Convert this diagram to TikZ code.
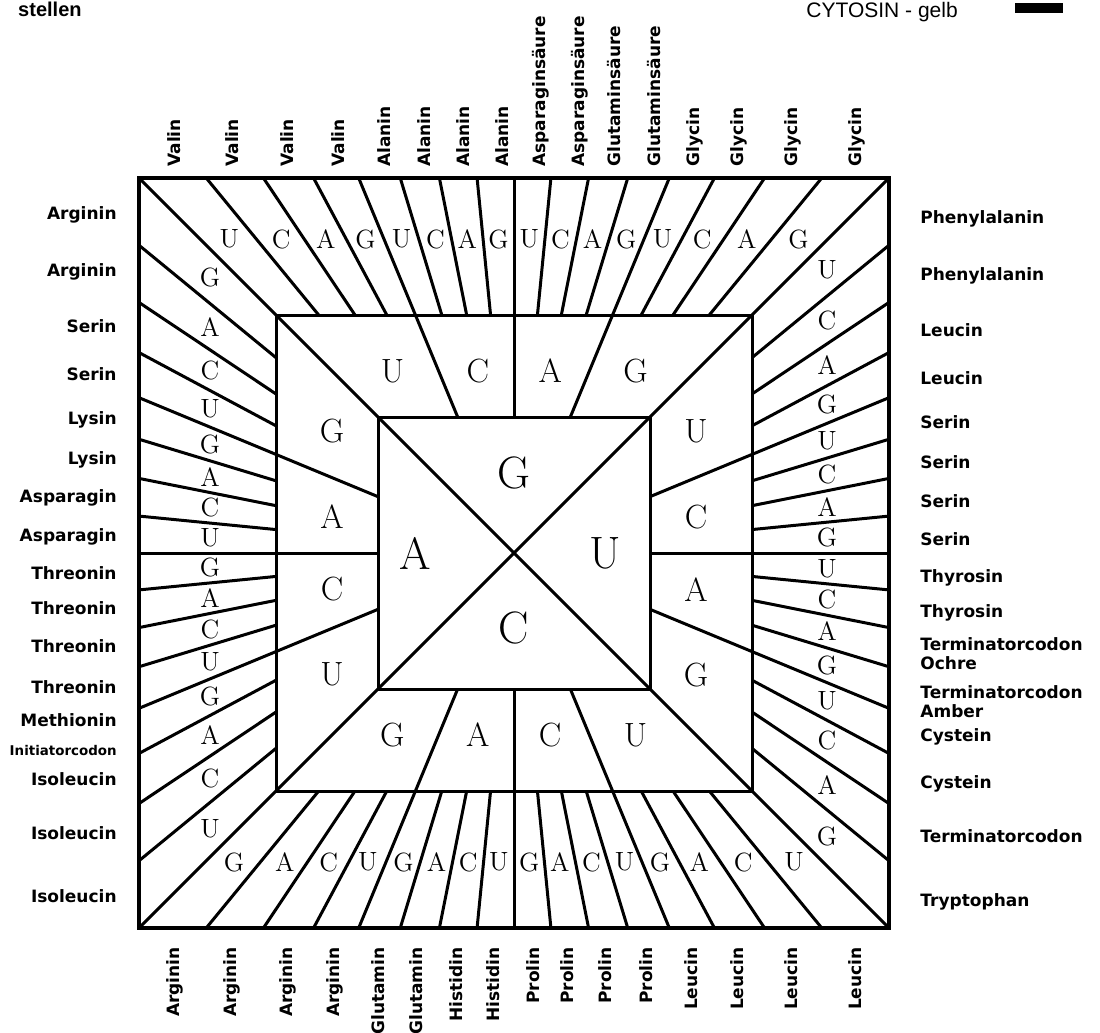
\documentclass[tikz,border=0pt]{standalone}
\usepackage{fontspec}
\newfontfamily\aminofont{DejaVu Sans}
\newfontfamily\headfont{Liberation Sans}

\tikzset{
  codon/.style={line width=1.5pt},
  frame/.style={line width=2pt},
  amino/.style={inner sep=0pt, font=\aminofont\bfseries\fontsize{8.5}{9.5}\selectfont},
  leftamino/.style={amino, anchor=mid east},
  rightamino/.style={amino, anchor=mid west, align=left},
  topamino/.style={amino, rotate=90, anchor=mid west},
  botamino/.style={amino, rotate=90, anchor=mid east},
  base1/.style={inner sep=0pt, font=\fontsize{22.7}{24}\selectfont},
  base2/.style={inner sep=0pt, font=\fontsize{16.8}{18}\selectfont},
  base3/.style={inner sep=0pt, font=\fontsize{13.2}{14}\selectfont},
}

\begin{document}
\begin{tikzpicture}[x=0.5pt,y=0.5pt]
\useasboundingbox (0,0) rectangle (1100,-1033);

%header
\node[anchor=base east, inner sep=0pt, font=\headfont\bfseries\fontsize{10}{12}\selectfont] (head) at (82,-17) {stellen};
\node[anchor=base west, inner sep=0pt, font=\headfont\fontsize{10.5}{12}\selectfont] (cyt) at (806,-18) {CYTOSIN - gelb};
\fill (1015,-3) rectangle (1063,-13);

%squares
\draw[frame] (139,-178) rectangle (889,-928);
\draw[codon] (276,-315) rectangle (752,-791);
\draw[codon] (378,-417) rectangle (650,-689);

%one side per turn, all four the same
\foreach \rot/\inl/\dd/\di in {0/G/314/80, 90/A/304/99, 180/C/309/75, 270/U/313/91} {
  \begin{scope}[shift={(514,-553)}, rotate=\rot]
    \draw[codon] (0,0) -- (-375,375);
    \foreach \k in {-4,0,4}
      \draw[codon] ({136*tan(\k*5.625)},136) -- ({375*tan(\k*5.625)},375);
    \foreach \k in {-7,-6,-5,-3,-2,-1,1,2,3,5,6,7}
      \draw[codon] ({238*tan(\k*5.625)},238) -- ({375*tan(\k*5.625)},375);
    \node[base1] (b1-\rot) at (0,\di) {\inl};
    \foreach \b [count=\j from 0] in {U,C,A,G}
      \node[base2] (b2-\rot-\j) at ({182*tan(-33.75+\j*22.5)},182) {\b};
    \foreach \b [count=\j from 0] in {U,C,A,G,U,C,A,G,U,C,A,G,U,C,A,G}
      \node[base3] (b3-\rot-\j) at ({\dd*tan(-45+(\j+0.5)*5.625)},\dd) {\b};
  \end{scope}
}

%left
\node[leftamino] (l1) at (117,-215) {Arginin};
\node[leftamino] (l2) at (117,-272) {Arginin};
\node[leftamino] (l3) at (117,-328) {Serin};
\node[leftamino] (l4) at (117,-376) {Serin};
\node[leftamino] (l5) at (117,-420) {Lysin};
\node[leftamino] (l6) at (117,-460) {Lysin};
\node[leftamino] (l7) at (117,-498) {Asparagin};
\node[leftamino] (l8) at (117,-537) {Asparagin};
\node[leftamino] (l9) at (117,-575) {Threonin};
\node[leftamino] (l10) at (117,-610) {Threonin};
\node[leftamino] (l11) at (117,-648) {Threonin};
\node[leftamino] (l12) at (117,-689) {Threonin};
\node[leftamino] (l13) at (117,-722) {Methionin};
\node[leftamino, font=\aminofont\bfseries\fontsize{6.7}{8}\selectfont] (l14) at (117,-751) {Initiatorcodon};
\node[leftamino] (l15) at (117,-781) {Isoleucin};
\node[leftamino] (l16) at (117,-835) {Isoleucin};
\node[leftamino] (l17) at (117,-898) {Isoleucin};

%right
\node[rightamino] (r1) at (920,-219) {Phenylalanin};
\node[rightamino] (r2) at (920,-276) {Phenylalanin};
\node[rightamino] (r3) at (920,-332) {Leucin};
\node[rightamino] (r4) at (920,-380) {Leucin};
\node[rightamino] (r5) at (920,-424) {Serin};
\node[rightamino] (r6) at (920,-464) {Serin};
\node[rightamino] (r7) at (920,-503) {Serin};
\node[rightamino] (r8) at (920,-541) {Serin};
\node[rightamino] (r9) at (920,-578) {Thyrosin};
\node[rightamino] (r10) at (920,-613) {Thyrosin};
\node[rightamino, anchor=west] (r11) at (920,-654) {Terminatorcodon\\Ochre};
\node[rightamino, anchor=west] (r12) at (920,-702) {Terminatorcodon\\Amber};
\node[rightamino] (r13) at (920,-737) {Cystein};
\node[rightamino] (r14) at (920,-784) {Cystein};
\node[rightamino] (r15) at (920,-838) {Terminatorcodon};
\node[rightamino] (r16) at (920,-902) {Tryptophan};

%top
\node[topamino] (t1) at (176,-167) {Valin};
\node[topamino] (t2) at (234,-167) {Valin};
\node[topamino] (t3) at (289,-167) {Valin};
\node[topamino] (t4) at (340,-167) {Valin};
\node[topamino] (t5) at (386,-167) {Alanin};
\node[topamino] (t6) at (426,-167) {Alanin};
\node[topamino] (t7) at (465,-167) {Alanin};
\node[topamino] (t8) at (504,-167) {Alanin};
\node[topamino] (t9) at (541,-167) {Asparaginsäure};
\node[topamino] (t10) at (580,-167) {Asparaginsäure};
\node[topamino] (t11) at (616,-167) {Glutaminsäure};
\node[topamino] (t12) at (656,-167) {Glutaminsäure};
\node[topamino] (t13) at (695,-167) {Glycin};
\node[topamino] (t14) at (739,-167) {Glycin};
\node[topamino] (t15) at (793,-167) {Glycin};
\node[topamino] (t16) at (857,-167) {Glycin};

%bottom
\node[botamino] (u1) at (175,-947) {Arginin};
\node[botamino] (u2) at (232,-947) {Arginin};
\node[botamino] (u3) at (288,-947) {Arginin};
\node[botamino] (u4) at (335,-947) {Arginin};
\node[botamino] (u5) at (380,-947) {Glutamin};
\node[botamino] (u6) at (418,-947) {Glutamin};
\node[botamino] (u7) at (458,-947) {Histidin};
\node[botamino] (u8) at (495,-947) {Histidin};
\node[botamino] (u9) at (535,-947) {Prolin};
\node[botamino] (u10) at (569,-947) {Prolin};
\node[botamino] (u11) at (607,-947) {Prolin};
\node[botamino] (u12) at (648,-947) {Prolin};
\node[botamino] (u13) at (693,-947) {Leucin};
\node[botamino] (u14) at (739,-947) {Leucin};
\node[botamino] (u15) at (793,-947) {Leucin};
\node[botamino] (u16) at (857,-947) {Leucin};
\end{tikzpicture}
\end{document}
